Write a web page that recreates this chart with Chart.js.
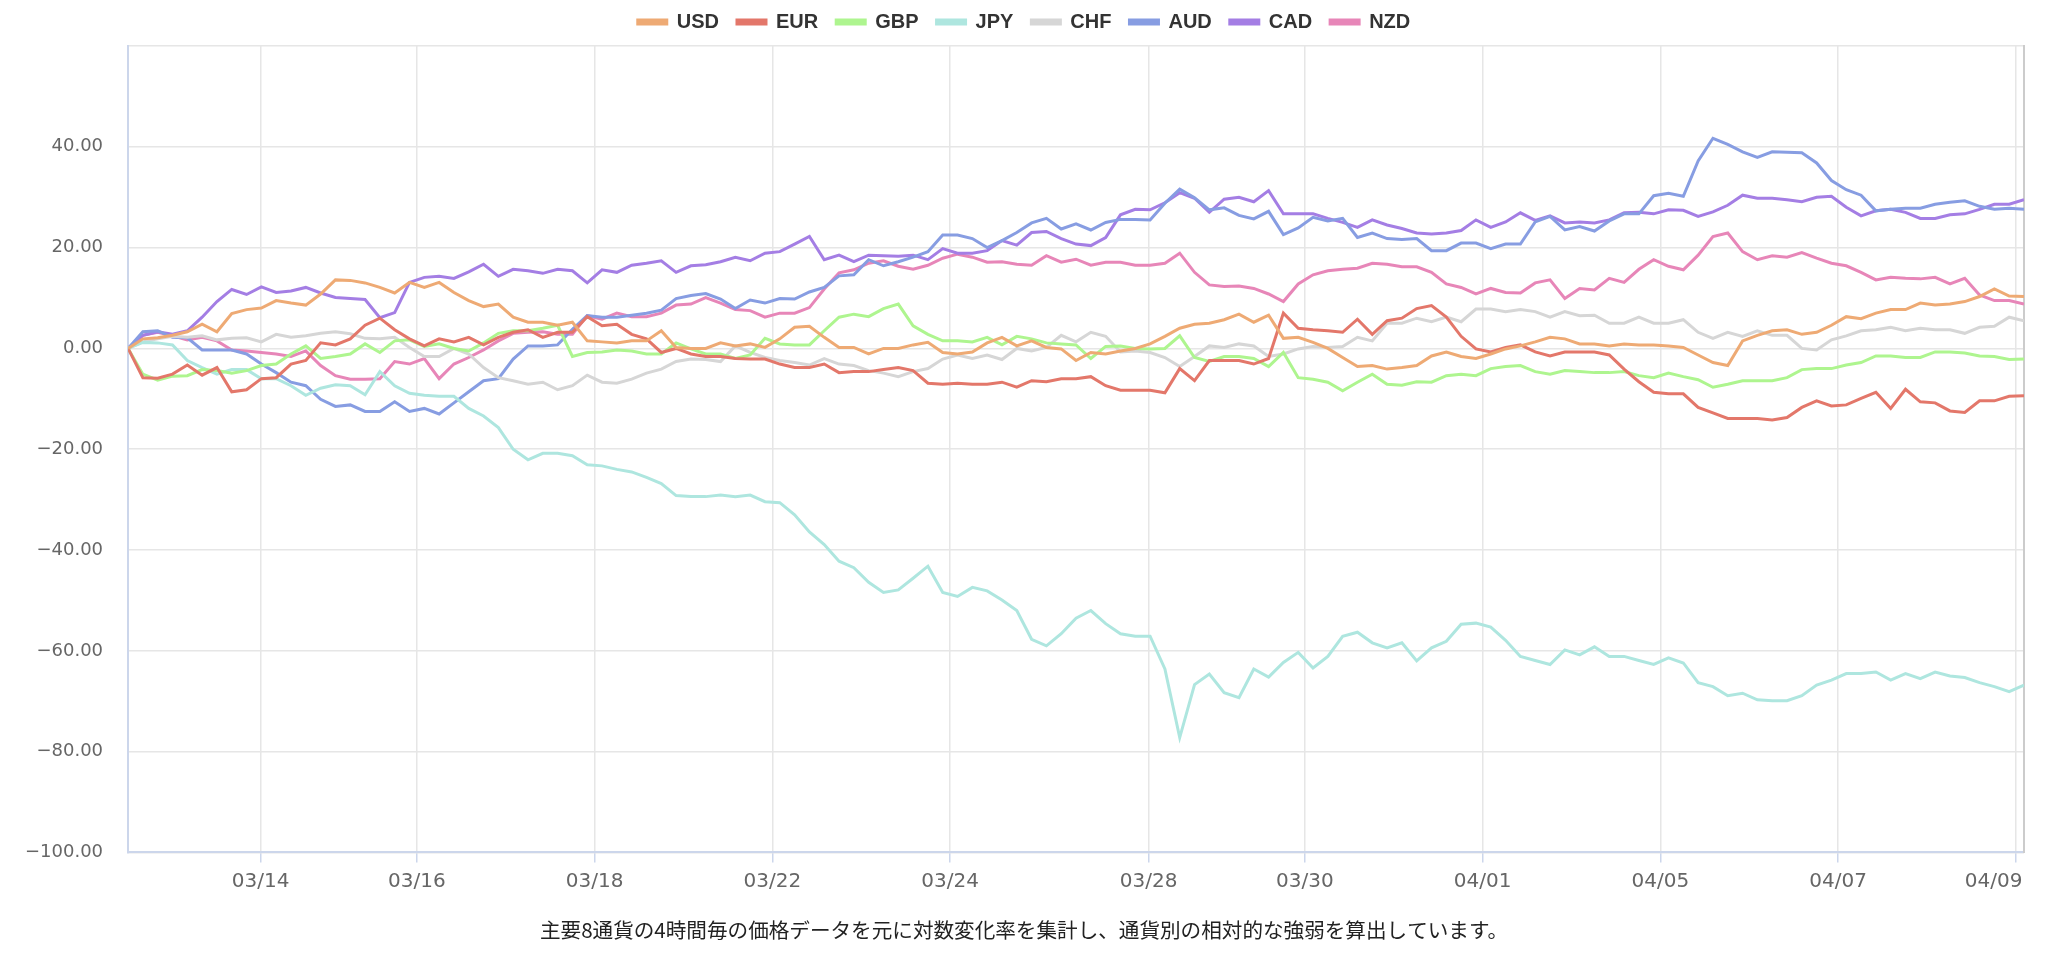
<!DOCTYPE html>
<html>
<head>
<meta charset="utf-8">
<title>通貨強弱チャート</title>
<script src="https://cdn.jsdelivr.net/npm/chart.js@4.4.1/dist/chart.umd.min.js"></script>
<style>
  html, body { margin: 0; padding: 0; background: #fff; }
  #wrap { width: 2048px; height: 970px; }
</style>
</head>
<body>
<div id="wrap"><canvas id="strengthChart" width="2048" height="970"></canvas></div>
<script>
// currencies shown in the legend, in this order
var currencies = ['USD', 'EUR', 'GBP', 'JPY', 'CHF', 'AUD', 'CAD', 'NZD'];

// cumulative strength per 4h bar (129 bars)
var usd = [0, 1.9, 2.1, 2.6, 3.3, 4.8, 3.3, 6.9, 7.7, 8.0, 9.5, 9.0, 8.6, 10.8, 13.6, 13.5, 13.0,
  12.1, 11.0, 13.1, 12.1, 13.1, 11.1, 9.5, 8.3, 8.8, 6.2, 5.2, 5.2, 4.6, 5.2, 1.5, 1.3,
  1.1, 1.5, 1.5, 3.5, 0.2, 0, 0, 1.1, 0.5, 0.9, 0.2, 1.9, 4.2, 4.4, 2.2, 0.2,
  0.2, -1.1, 0, 0, 0.7, 1.2, -0.8, -1.1, -0.7, 1.1, 2.2, 0.5, 1.5, 0.2, -0.1, -2.4,
  -0.8, -1.1, -0.5, 0, 0.9, 2.4, 4.0, 4.8, 5.0, 5.7, 6.8, 5.2, 6.6, 2.0, 2.2, 1.2,
  0, -1.8, -3.6, -3.4, -4.1, -3.8, -3.4, -1.5, -0.7, -1.6, -2.0, -1.1, -0.1, 0.5, 1.3, 2.2,
  1.9, 0.9, 0.9, 0.5, 0.9, 0.7, 0.7, 0.5, 0.2, -1.3, -2.8, -3.4, 1.5, 2.6, 3.5, 3.7, 2.8,
  3.2, 4.6, 6.3, 5.9, 7.0, 7.7, 7.7, 9.0, 8.6, 8.8, 9.3, 10.3, 11.8, 10.4, 10.3];
var eur = [0, -5.8, -5.9, -5.1, -3.3, -5.3, -3.8, -8.6, -8.2, -6.0, -5.8, -3.1, -2.4, 1.1, 0.7, 1.9, 4.6,
  6.0, 3.7, 1.9, 0.5, 1.9, 1.3, 2.2, 0.7, 2.2, 3.2, 3.7, 2.2, 3.2, 3.2, 6.3, 4.5,
  4.8, 2.8, 1.9, -0.8, 0, -1.1, -1.6, -1.6, -2.0, -2.1, -2.1, -3.1, -3.8, -3.8, -3.1, -4.8,
  -4.6, -4.6, -4.2, -3.8, -4.4, -6.9, -7.1, -6.9, -7.1, -7.1, -6.7, -7.7, -6.4, -6.6, -6.0, -6.0,
  -5.6, -7.4, -8.3, -8.3, -8.3, -8.8, -4.0, -6.4, -2.4, -2.4, -2.4, -3.1, -2.0, 7.0, 4.0, 3.7,
  3.5, 3.2, 5.8, 2.8, 5.5, 6.0, 7.9, 8.5, 6.2, 2.4, -0.1, -0.7, 0.2, 0.7, -0.7, -1.5,
  -0.7, -0.7, -0.7, -1.3, -4.1, -6.6, -8.7, -9.0, -9.0, -11.7, -12.8, -13.9, -13.9, -13.9, -14.2, -13.7, -11.7,
  -10.4, -11.4, -11.2, -9.9, -8.7, -11.9, -8.1, -10.6, -10.8, -12.4, -12.7, -10.4, -10.4, -9.5, -9.4];
var gbp = [0, -5.1, -6.3, -5.5, -5.4, -4.2, -4.4, -4.9, -4.4, -3.4, -3.1, -1.1, 0.5, -2.0, -1.6, -1.1, 0.9,
  -0.8, 1.5, 1.7, 0.4, 0.9, 0, -0.5, 1.1, 3.0, 3.5, 3.5, 4.0, 4.6, -1.6, -0.8, -0.7,
  -0.3, -0.5, -1.1, -1.1, 1.1, -0.1, -1.1, -1.1, -2.0, -1.3, 2.0, 0.9, 0.7, 0.7, 3.5, 6.2,
  6.8, 6.3, 7.9, 8.8, 4.5, 2.8, 1.5, 1.5, 1.3, 2.2, 0.7, 2.4, 1.9, 1.1, 0.9, 0.7,
  -2.0, 0.4, 0.5, 0, -0.1, 0, 2.5, -1.8, -2.6, -1.6, -1.6, -2.0, -3.6, -0.8, -5.8, -6.1,
  -6.7, -8.4, -6.7, -5.1, -7.1, -7.3, -6.6, -6.7, -5.4, -5.1, -5.4, -4.0, -3.6, -3.4, -4.6, -5.1,
  -4.4, -4.6, -4.8, -4.8, -4.6, -5.4, -5.8, -4.9, -5.6, -6.2, -7.7, -7.1, -6.4, -6.4, -6.4, -5.8, -4.2,
  -4.0, -4.0, -3.3, -2.8, -1.5, -1.5, -1.8, -1.8, -0.7, -0.7, -0.9, -1.5, -1.6, -2.2, -2.1];
var jpy = [0, 1.2, 1.1, 0.7, -2.4, -3.8, -5.1, -4.2, -4.2, -6.0, -6.0, -7.4, -9.3, -7.9, -7.2, -7.4, -9.2,
  -4.6, -7.4, -8.9, -9.3, -9.5, -9.5, -11.9, -13.4, -15.7, -20.0, -22.1, -20.8, -20.8, -21.3, -23.1, -23.3,
  -24.0, -24.5, -25.6, -26.8, -29.2, -29.4, -29.4, -29.1, -29.4, -29.1, -30.4, -30.6, -33.0, -36.4, -38.9, -42.2,
  -43.5, -46.4, -48.4, -47.9, -45.6, -43.2, -48.4, -49.2, -47.4, -48.1, -49.9, -52.0, -57.7, -59.0, -56.6, -53.5,
  -52.0, -54.6, -56.6, -57.1, -57.1, -63.6, -77.2, -66.7, -64.6, -68.3, -69.3, -63.6, -65.2, -62.3, -60.3, -63.4,
  -61.1, -57.1, -56.3, -58.4, -59.4, -58.4, -62.0, -59.4, -58.1, -54.7, -54.5, -55.3, -57.9, -61.1, -61.9, -62.7,
  -59.8, -60.8, -59.2, -61.1, -61.1, -61.9, -62.7, -61.4, -62.4, -66.3, -67.1, -68.9, -68.4, -69.7, -69.9, -69.9, -68.9,
  -66.8, -65.8, -64.5, -64.5, -64.2, -65.8, -64.5, -65.5, -64.2, -65.0, -65.3, -66.3, -67.1, -68.1, -66.8];
var chf = [0, 1.3, 1.9, 2.4, 2.2, 2.5, 1.7, 2.0, 2.1, 1.3, 2.8, 2.2, 2.5, 3.0, 3.3, 2.9, 2.0,
  1.9, 2.2, 0.2, -1.6, -1.6, 0, -1.1, -3.8, -5.8, -6.4, -7.1, -6.7, -8.2, -7.4, -5.3, -6.7,
  -6.9, -6.1, -4.9, -4.1, -2.6, -2.1, -2.2, -2.6, 0.5, -0.8, -1.8, -2.4, -2.8, -3.3, -2.0, -3.1,
  -3.4, -4.4, -4.9, -5.6, -4.6, -4.0, -2.1, -1.3, -2.0, -1.3, -2.2, 0, -0.5, 0.2, 2.6, 1.3,
  3.2, 2.4, -0.7, -0.5, -0.8, -1.8, -3.6, -1.6, 0.5, 0.2, 0.9, 0.5, -1.6, -1.1, -0.1, 0.4,
  0.2, 0.4, 2.2, 1.5, 5.0, 5.0, 6.0, 5.3, 6.2, 5.3, 7.8, 7.8, 7.3, 7.7, 7.3, 6.2,
  7.3, 6.5, 6.6, 5.0, 5.0, 6.2, 5.0, 5.0, 5.7, 3.2, 2.0, 3.2, 2.4, 3.5, 2.6, 2.6, 0,
  -0.3, 1.7, 2.5, 3.5, 3.7, 4.2, 3.5, 4.0, 3.7, 3.7, 3.0, 4.2, 4.4, 6.2, 5.5];
var aud = [0, 3.3, 3.5, 2.2, 2.1, -0.3, -0.3, -0.3, -1.1, -3.1, -4.8, -6.7, -7.4, -10.1, -11.5, -11.2, -12.5,
  -12.5, -10.6, -12.5, -11.9, -13.0, -10.8, -8.6, -6.4, -6.0, -2.1, 0.5, 0.5, 0.7, 3.8, 6.5, 6.2,
  6.2, 6.6, 7.0, 7.6, 9.9, 10.5, 10.9, 9.8, 7.9, 9.6, 9.0, 9.9, 9.8, 11.2, 12.1, 14.4,
  14.6, 17.6, 16.4, 17.2, 18.1, 19.2, 22.5, 22.5, 21.8, 20.0, 21.4, 23.0, 24.9, 25.8, 23.7, 24.7,
  23.5, 25.0, 25.6, 25.6, 25.5, 28.8, 31.6, 29.9, 27.5, 27.9, 26.4, 25.7, 27.2, 22.6, 23.9, 26.0,
  25.3, 25.8, 22.0, 22.9, 21.8, 21.6, 21.8, 19.4, 19.4, 20.9, 20.9, 19.8, 20.7, 20.7, 25.1, 26.2,
  23.5, 24.2, 23.3, 25.3, 26.7, 26.7, 30.3, 30.8, 30.2, 37.2, 41.7, 40.5, 39.0, 37.9, 39.0, 38.9, 38.8,
  36.8, 33.3, 31.5, 30.4, 27.3, 27.6, 27.8, 27.8, 28.6, 29.0, 29.3, 28.2, 27.6, 27.8, 27.6];
var cad = [0, 2.6, 3.3, 2.8, 3.5, 6.2, 9.3, 11.7, 10.7, 12.2, 11.1, 11.4, 12.1, 11.0, 10.1, 9.9, 9.7,
  6.1, 7.1, 13.1, 14.1, 14.3, 13.9, 15.2, 16.7, 14.3, 15.7, 15.4, 14.9, 15.7, 15.4, 13.0, 15.6,
  15.1, 16.5, 16.9, 17.4, 15.1, 16.4, 16.6, 17.2, 18.1, 17.4, 18.9, 19.2, 20.7, 22.2, 17.6, 18.5,
  17.2, 18.5, 18.4, 18.3, 18.5, 17.6, 19.8, 18.9, 18.9, 19.4, 21.4, 20.5, 23.0, 23.2, 21.8, 20.7,
  20.4, 22.0, 26.5, 27.6, 27.5, 28.9, 30.9, 29.8, 27.0, 29.6, 30.0, 29.1, 31.3, 26.7, 26.7, 26.7,
  25.8, 25.0, 24.0, 25.5, 24.5, 23.8, 22.9, 22.7, 22.9, 23.4, 25.5, 24.0, 25.1, 26.9, 25.4, 26.3,
  24.9, 25.1, 24.9, 25.5, 26.9, 27.0, 26.7, 27.5, 27.4, 26.2, 27.1, 28.4, 30.4, 29.8, 29.8, 29.5, 29.1,
  30.0, 30.2, 28.0, 26.3, 27.3, 27.6, 27.0, 25.8, 25.8, 26.5, 26.7, 27.6, 28.6, 28.6, 29.5];
var nzd = [0, 2.6, 3.2, 2.5, 1.7, 2.2, 1.5, -0.3, -0.5, -0.8, -1.1, -1.6, -0.5, -3.4, -5.4, -6.1, -6.1,
  -6.0, -2.6, -3.1, -2.0, -6.0, -3.1, -1.8, -0.3, 1.5, 3.0, 3.2, 3.3, 2.8, 2.8, 6.5, 5.8,
  7.0, 6.3, 6.3, 7.0, 8.6, 8.8, 10.1, 9.0, 7.7, 7.5, 6.2, 7.0, 7.0, 8.1, 11.8, 15.0,
  15.6, 16.9, 17.4, 16.3, 15.7, 16.5, 17.9, 18.7, 18.1, 17.1, 17.2, 16.7, 16.5, 18.4, 17.1, 17.7,
  16.5, 17.1, 17.1, 16.5, 16.5, 16.9, 18.9, 15.1, 12.6, 12.3, 12.4, 11.9, 10.8, 9.3, 12.8, 14.6,
  15.4, 15.7, 15.9, 16.9, 16.7, 16.2, 16.2, 15.1, 12.8, 12.1, 10.8, 11.9, 11.1, 11.0, 13.0, 13.6,
  9.9, 11.9, 11.6, 13.9, 13.1, 15.7, 17.6, 16.3, 15.6, 18.5, 22.2, 22.9, 19.2, 17.6, 18.4, 18.1, 19.0,
  17.9, 16.9, 16.4, 15.1, 13.6, 14.1, 13.9, 13.8, 14.1, 12.8, 13.9, 10.6, 9.5, 9.5, 8.8];

// date ticks: position in bar index units (day starts fall between bars)
var tickPos = [8.95, 19.5, 31.5, 43.5, 55.5, 68.9, 79.45, 91.45, 103.45, 115.45, 127.45];
var tickLabels = ['03/14', '03/16', '03/18', '03/22', '03/24', '03/28', '03/30', '04/01', '04/05', '04/07', '04/09'];

var lineColors = ['#eeaa74', '#e3776a', '#aef58f', '#aee6df', '#d6d6d6', '#879de2', '#a47ee4', '#e786b8'];

var footNote = '主要8通貨の4時間毎の価格データを元に対数変化率を集計し、通貨別の相対的な強弱を算出しています。';

// a little extra room under the legend
var legendGap = {
  id: 'legendGap',
  beforeInit: function(chart) {
    var fitLegend = chart.legend.fit;
    chart.legend.fit = function() {
      fitLegend.bind(chart.legend)();
      this.height += 4;
    };
  }
};

document.addEventListener('DOMContentLoaded', function() {

  var seriesList = [usd, eur, gbp, jpy, chf, aud, cad, nzd];

  var datasets = currencies.map(function(name, k) {
    return {
      label: name,
      data: seriesList[k].map(function(v, i) { return { x: i, y: v }; }),
      borderColor: lineColors[k],
      backgroundColor: lineColors[k],
      borderWidth: 3,
      pointRadius: 0,
      pointHoverRadius: 0,
      tension: 0,
      fill: false
    };
  });

  var ctx = document.getElementById('strengthChart').getContext('2d');

  new Chart(ctx, {
    type: 'line',
    data: { datasets: datasets },
    plugins: [legendGap],
    options: {
      responsive: false,
      animation: false,
      devicePixelRatio: 1,
      layout: { padding: { left: 0, right: 0, top: -6, bottom: 0 } },
      plugins: {
        legend: {
          position: 'top',
          labels: {
            boxWidth: 29,
            boxHeight: 4,
            padding: 18,
            color: '#333',
            font: { family: 'Liberation Sans', size: 20, weight: 'bold' }
          }
        },
        title: {
          display: true,
          position: 'bottom',
          text: footNote,
          color: '#222',
          padding: { top: 17, bottom: 27.8 },
          font: { family: '"Noto Sans CJK JP"', size: 20.6, weight: 'normal' }
        },
        tooltip: { enabled: false }
      },
      scales: {
        x: {
          type: 'linear',
          min: 0,
          max: seriesList[0].length - 1,
          afterBuildTicks: function(axis) {
            axis.ticks = tickPos.map(function(p) { return { value: p }; });
          },
          afterFit: function(axis) {
            axis.paddingRight = 0;
          },
          ticks: {
            autoSkip: false,
            maxRotation: 0,
            padding: 7,
            color: '#666',
            font: { family: 'DejaVu Sans', size: 20 },
            callback: function(value) {
              var k = tickPos.indexOf(value);
              if (k < 0) return null;
              // last label sits flush with the right edge of the plot
              if (k === tickLabels.length - 1) return tickLabels[k] + '       ';
              return tickLabels[k];
            }
          },
          grid: { color: '#e6e6e6', lineWidth: 1.5, tickColor: '#ccd6eb', tickLength: 10 },
          border: { color: '#ccd6eb', width: 2 }
        },
        y: {
          min: -100,
          max: 60,
          ticks: {
            stepSize: 20,
            padding: 25,
            color: '#666',
            font: { family: 'DejaVu Sans', size: 18 },
            callback: function(value) {
              if (value === 60) return '';
              return value.toFixed(2).replace('-', '\u2212');
            }
          },
          grid: { color: '#e6e6e6', lineWidth: 1.5, drawTicks: false },
          border: { color: '#ccd6eb', width: 2 }
        },
        yRight: {
          position: 'right',
          min: -100,
          max: 60,
          afterFit: function(axis) {
            axis.width = 24;
          },
          ticks: { display: false },
          grid: { drawOnChartArea: false, drawTicks: false },
          border: { color: '#cccccc', width: 2 }
        }
      }
    }
  });
});
</script>
</body>
</html>
